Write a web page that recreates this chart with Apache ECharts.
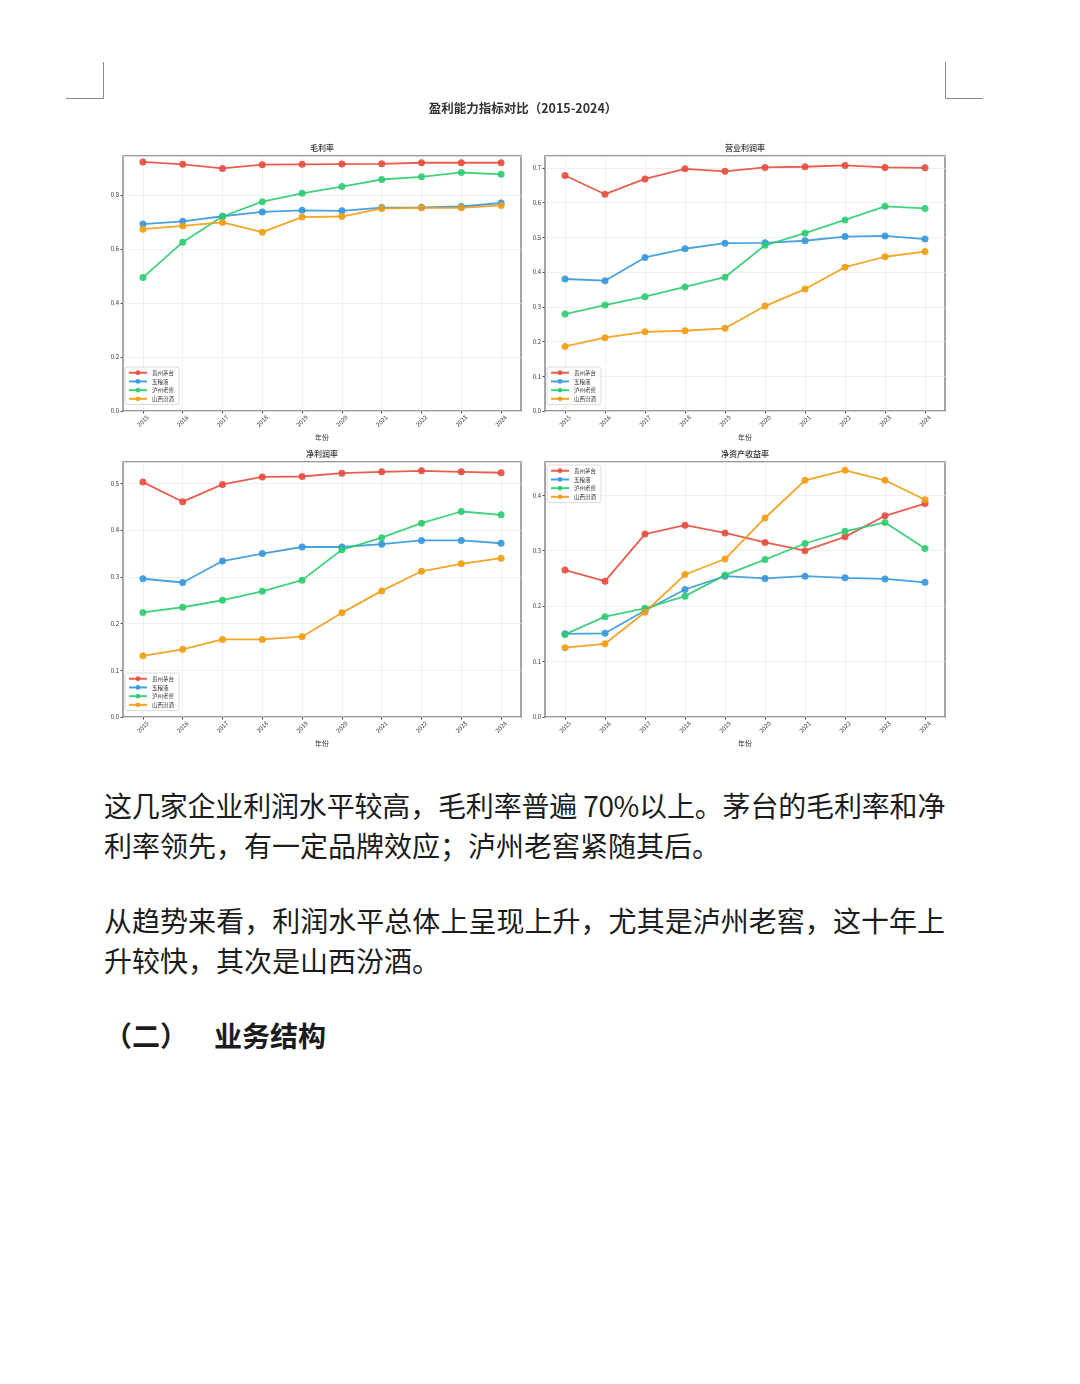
<!DOCTYPE html>
<html>
<head>
<meta charset="utf-8">
<title>盈利能力指标对比</title>
<script src="https://cdn.jsdelivr.net/npm/echarts@6/dist/echarts.min.js"></script>
<style>
    body { margin: 0; background: #fff; }
    #page { position: relative; width: 1080px; height: 1384px; overflow: hidden; }
    #chart { position: absolute; left: 0; top: 0; width: 1080px; height: 760px; }
    .line {
        position: absolute; left: 104px; width: 841px;
        font-family: "Noto Sans CJK SC", sans-serif; font-size: 28px; color: #1c1c1c;
        line-height: 40px; white-space: nowrap;
    }
    .just { text-align: justify; text-align-last: justify; }
    .head { font-weight: bold; }
</style>
</head>
<body>
<div id="page">
    <div id="chart"></div>
    <div class="line just" style="top:785px; letter-spacing:-0.45px;">这几家企业利润水平较高，毛利率普遍 70%以上。茅台的毛利率和净</div>
    <div class="line" style="top:825px;">利率领先，有一定品牌效应；泸州老窖紧随其后。</div>
    <div class="line just" style="top:900px;">从趋势来看，利润水平总体上呈现上升，尤其是泸州老窖，这十年上</div>
    <div class="line" style="top:940px;">升较快，其次是山西汾酒。</div>
    <div class="line head" style="top:1015px; left:104px; width:auto;">（二）</div>
    <div class="line head" style="top:1015px; left:214px; width:auto;">业务结构</div>
</div>
<script>
const years = ['2015', '2016', '2017', '2018', '2019', '2020', '2021', '2022', '2023', '2024'];
const companies = ['贵州茅台', '五粮液', '泸州老窖', '山西汾酒'];
const colors = ['#e74c3c', '#3498db', '#2ecc71', '#f39c12'];

// 毛利率
const grossMoutai = [0.922, 0.913, 0.898, 0.912, 0.913, 0.914, 0.915, 0.919, 0.919, 0.919];
const grossWuliangye = [0.692, 0.702, 0.721, 0.737, 0.743, 0.741, 0.753, 0.754, 0.757, 0.770];
const grossLuzhou = [0.494, 0.625, 0.720, 0.775, 0.806, 0.831, 0.857, 0.867, 0.883, 0.876];
const grossFenjiu = [0.673, 0.685, 0.698, 0.662, 0.718, 0.720, 0.750, 0.752, 0.752, 0.761];

// 营业利润率
const opMoutai = [0.678, 0.624, 0.668, 0.697, 0.690, 0.701, 0.703, 0.707, 0.701, 0.700];
const opWuliangye = [0.380, 0.375, 0.442, 0.467, 0.483, 0.484, 0.490, 0.502, 0.504, 0.495];
const opLuzhou = [0.279, 0.305, 0.329, 0.357, 0.385, 0.477, 0.512, 0.550, 0.589, 0.583];
const opFenjiu = [0.186, 0.211, 0.228, 0.231, 0.238, 0.302, 0.351, 0.414, 0.444, 0.459];

// 净利润率
const netMoutai = [0.503, 0.461, 0.498, 0.514, 0.515, 0.522, 0.525, 0.527, 0.525, 0.523];
const netWuliangye = [0.296, 0.288, 0.334, 0.350, 0.364, 0.364, 0.370, 0.378, 0.378, 0.372];
const netLuzhou = [0.224, 0.235, 0.250, 0.269, 0.293, 0.358, 0.384, 0.415, 0.440, 0.433];
const netFenjiu = [0.131, 0.145, 0.166, 0.166, 0.172, 0.223, 0.270, 0.312, 0.328, 0.340];

// 净资产收益率
const roeMoutai = [0.265, 0.245, 0.330, 0.346, 0.332, 0.315, 0.300, 0.325, 0.363, 0.385];
const roeWuliangye = [0.150, 0.151, 0.192, 0.230, 0.254, 0.250, 0.254, 0.251, 0.249, 0.243];
const roeLuzhou = [0.149, 0.181, 0.196, 0.218, 0.256, 0.284, 0.313, 0.335, 0.351, 0.304];
const roeFenjiu = [0.125, 0.132, 0.189, 0.257, 0.285, 0.359, 0.427, 0.445, 0.427, 0.392];

const panels = [
    { title: '毛利率', data: [grossMoutai, grossWuliangye, grossLuzhou, grossFenjiu], max: 0.944, interval: 0.2,
      grid: { left: 123, top: 156, width: 398, height: 255 }, legendTop: 367 },
    { title: '营业利润率', data: [opMoutai, opWuliangye, opLuzhou, opFenjiu], max: 0.734, interval: 0.1,
      grid: { left: 545, top: 156, width: 400, height: 255 }, legendTop: 367 },
    { title: '净利润率', data: [netMoutai, netWuliangye, netLuzhou, netFenjiu], max: 0.546, interval: 0.1,
      grid: { left: 123, top: 462, width: 398, height: 255 }, legendTop: 673 },
    { title: '净资产收益率', data: [roeMoutai, roeWuliangye, roeLuzhou, roeFenjiu], max: 0.460, interval: 0.1,
      grid: { left: 545, top: 462, width: 400, height: 255 }, legendTop: 465 }
];

const FONT = '"Noto Sans CJK SC", "DejaVu Sans", sans-serif';

const grids = [];
const xAxes = [];
const yAxes = [];
const series = [];
const legends = [];
const graphics = [];

panels.forEach((p, idx) => {
    grids.push(Object.assign({ show: true, borderColor: '#777', borderWidth: 1.3, backgroundColor: '#fff' }, p.grid));

    xAxes.push({
        type: 'category',
        gridIndex: idx,
        data: years,
        boundaryGap: true,
        name: '年份',
        nameLocation: 'middle',
        nameGap: 23,
        nameTextStyle: { fontSize: 7, color: '#333', fontFamily: FONT },
        axisLine: { show: false },
        axisTick: { show: true, alignWithLabel: true, length: 2.5, lineStyle: { color: '#555' } },
        axisLabel: { rotate: 45, fontSize: 6, color: '#333', margin: 10, align: 'center', verticalAlign: 'middle', interval: 0, fontFamily: FONT },
        splitLine: { show: true, alignWithLabel: true, lineStyle: { color: '#ececec', width: 0.8 } }
    });

    yAxes.push({
        type: 'value',
        gridIndex: idx,
        min: 0,
        max: p.max,
        interval: p.interval,
        axisLine: { show: false },
        axisTick: { show: true, length: 2.5, lineStyle: { color: '#555' } },
        axisLabel: {
            fontSize: 6, color: '#333', margin: 4, fontFamily: FONT, showMaxLabel: false,
            formatter: v => (Math.abs(v / p.interval - Math.round(v / p.interval)) < 1e-6 ? v.toFixed(1) : '')
        },
        splitLine: { show: true, lineStyle: { color: '#ececec', width: 0.8 } }
    });

    p.data.forEach((vals, k) => {
        series.push({
            type: 'line',
            name: companies[k],
            xAxisIndex: idx,
            yAxisIndex: idx,
            data: vals,
            symbol: 'circle',
            symbolSize: 7,
            color: colors[k],
            lineStyle: { width: 1.8, opacity: 0.9 },
            itemStyle: { opacity: 0.9 },
            emphasis: { disabled: true },
            animation: false
        });
    });

    legends.push({
        left: p.grid.left + 2,
        top: p.legendTop,
        orient: 'vertical',
        data: companies,
        itemWidth: 18,
        itemHeight: 6,
        itemGap: 3.2,
        padding: [3, 5, 3, 3],
        borderColor: '#d0d0d0',
        borderWidth: 0.8,
        borderRadius: 2,
        backgroundColor: 'rgba(255,255,255,0.85)',
        textStyle: { fontSize: 5.5, color: '#333', fontFamily: FONT },
        selectedMode: false
    });

    graphics.push({
        type: 'text',
        x: p.grid.left + p.grid.width / 2,
        y: p.grid.top - 8,
        style: { text: p.title, fill: '#333', font: '500 8px ' + FONT, textAlign: 'center', textVerticalAlign: 'middle' }
    });
});

// 主标题
graphics.push({
    type: 'text', x: 523, y: 108,
    style: { text: '盈利能力指标对比（2015-2024）', fill: '#333', font: 'bold 12.5px ' + FONT, textAlign: 'center', textVerticalAlign: 'middle' }
});

// 页面裁切角标
const cropStyle = { stroke: '#8a8a8a', lineWidth: 1 };
graphics.push(
    { type: 'polyline', shape: { points: [[66, 98.5], [103.5, 98.5], [103.5, 62]] }, style: cropStyle },
    { type: 'polyline', shape: { points: [[983, 98.5], [945.5, 98.5], [945.5, 62]] }, style: cropStyle }
);

const myChart = echarts.init(document.getElementById('chart'));
myChart.setOption({
    animation: false,
    grid: grids,
    xAxis: xAxes,
    yAxis: yAxes,
    legend: legends,
    series: series,
    graphic: graphics
});
</script>
</body>
</html>
